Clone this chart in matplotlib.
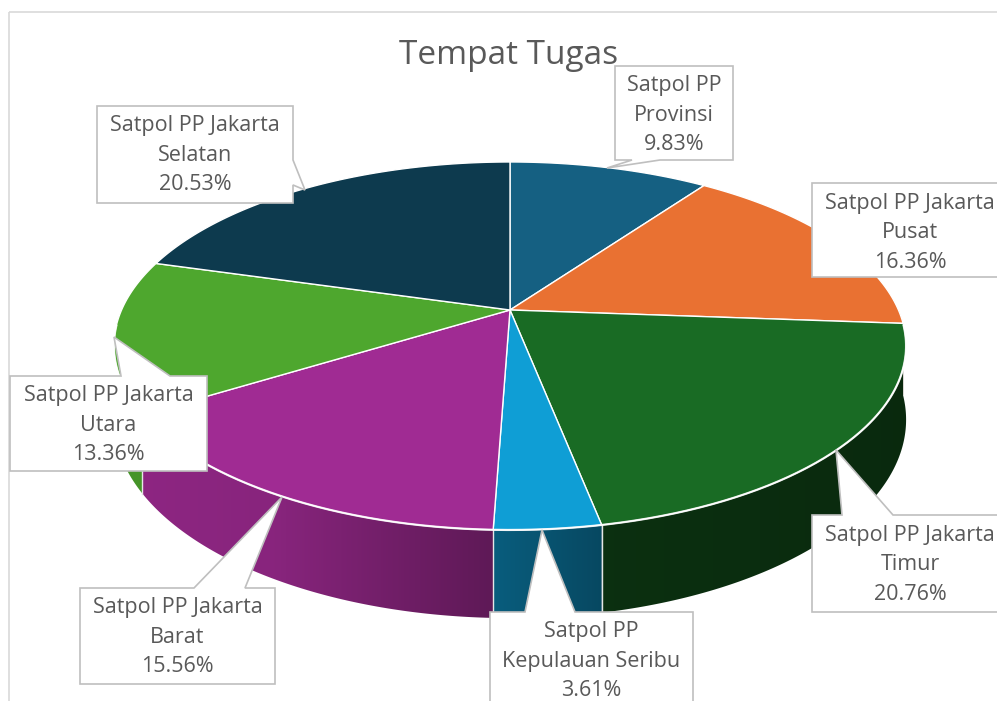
import numpy as np
import matplotlib.pyplot as plt
from matplotlib.patches import Polygon, Rectangle
from matplotlib.colors import to_rgb

# data
categories = ["Satpol PP\nProvinsi", "Satpol PP Jakarta\nPusat", "Satpol PP Jakarta\nTimur",
              "Satpol PP\nKepulauan Seribu", "Satpol PP Jakarta\nBarat",
              "Satpol PP Jakarta\nUtara", "Satpol PP Jakarta\nSelatan"]
shares = [9.83, 16.36, 20.76, 3.61, 15.56, 13.36, 20.53]
colors = ["#156082", "#E97132", "#196B24", "#0F9ED5", "#A02B93", "#4EA72E", "#0D3A4E"]
title = "Tempat Tugas"

# callout layout in pixels: box (x0, y0, x1, y1), pointer side, base, tip
callouts = [
    ((615, 66, 733, 160), "bottom", (632, 660), (607, 168)),
    ((812, 183, 1010, 277), None, None, None),
    ((812, 515, 1010, 612), "top", (842, 893), (836, 450)),
    ((490, 612, 693, 720), "top", (525, 575), (542, 530)),
    ((80, 588, 275, 684), "top", (194, 245), (282, 497)),
    ((10, 376, 207, 471), "top", (121, 170), (114, 337)),
    ((97, 106, 293, 203), "right", (160, 185), (305, 190)),
]

TXT = "#595959"
plt.rcParams['font.family'] = ['Open Sans', 'DejaVu Sans']

# perspective camera for the 3d pie (pixel units)
F, D, elev, thick = 1768.6, 4.553, np.radians(27.1), 0.205
cx, cy = 510.0, 310.0
ca, sa = np.cos(elev), np.sin(elev)


def project(phi_deg, bottom=False):
    phi = np.radians(phi_deg)
    X, Y = np.sin(phi), np.cos(phi)
    depth = D + Y * ca
    y = cy - F * Y * sa / depth
    if bottom:
        y = y + F * thick * ca / depth
    return cx + F * X / depth, y


def shade(phi_deg):
    X = np.sin(np.radians(phi_deg))
    return np.interp(X, [-1, -0.5, 0, 0.2, 1], [0.9, 0.85, 0.57, 0.45, 0.38])


def callout_poly(box, side, base, tip):
    x0, y0, x1, y1 = box
    if side == "top":
        return [(x0, y0), (base[0], y0), tip, (base[1], y0), (x1, y0), (x1, y1), (x0, y1)]
    if side == "bottom":
        return [(x0, y0), (x1, y0), (x1, y1), (base[1], y1), tip, (base[0], y1), (x0, y1)]
    if side == "right":
        return [(x0, y0), (x1, y0), (x1, base[0]), tip, (x1, base[1]), (x1, y1), (x0, y1)]
    return [(x0, y0), (x1, y0), (x1, y1), (x0, y1)]


fig = plt.figure(figsize=(9.97, 7.01), dpi=100)
ax = fig.add_axes([0, 0, 1, 1])
ax.axis('off')

# chart area border
ax.add_patch(Rectangle((9, 12), 1000, 700, fill=False, ec="#D9D9D9", lw=1.2, zorder=0))

edges = np.concatenate([[0], np.cumsum(shares)]) / sum(shares) * 360.0

# front side walls with a shaded gradient
for i, c in enumerate(colors):
    a0, a1 = max(edges[i], 90.0), min(edges[i + 1], 270.0)
    if a1 <= a0:
        continue
    a = np.linspace(a0, a1, 200)
    tx, ty = project(a)
    bx, by = project(a, True)
    verts = list(zip(tx, ty)) + list(zip(bx[::-1], by[::-1]))
    wall = Polygon(verts, closed=True, fc="none", ec="none")
    ax.add_patch(wall)
    xs = np.linspace(tx.min(), tx.max(), 300)
    f = np.interp(xs, tx[::-1], shade(a)[::-1])
    img = np.clip(np.array(to_rgb(c))[None, None, :] * f[None, :, None], 0, 1)
    im = ax.imshow(img, extent=(xs[0] - 1, xs[-1] + 1, by.max() + 1, ty.min() - 1),
                   aspect='auto', interpolation='bilinear', zorder=2)
    im.set_clip_path(wall)

# light seams on visible wall joints
for e in edges[1:-1]:
    if np.cos(np.radians(e)) < 0 and abs(np.sin(np.radians(e))) < 0.95:
        x0, y0 = project(e)
        x1, y1 = project(e, True)
        ax.plot([x0, x1], [y0, y1], color="#E6E6E6", lw=1.0, zorder=3)

# top faces
for i, c in enumerate(colors):
    a = np.linspace(edges[i], edges[i + 1], 200)
    px, py = project(a)
    verts = [(cx, cy)] + list(zip(px, py))
    ax.add_patch(Polygon(verts, closed=True, fc=c, ec="white", lw=1.0, zorder=4))

# front rim highlight
a = np.linspace(95, 265, 300)
px, py = project(a)
ax.plot(px, py, color="white", lw=1.6, alpha=0.85, zorder=5)

ax.text(509, 55, title, ha="center", va="center", fontsize=24, color=TXT, zorder=6)

# data labels
for name, v, (box, side, base, tip) in zip(categories, shares, callouts):
    ax.add_patch(Polygon(callout_poly(box, side, base, tip), closed=True, fc="white",
                         ec="#BFBFBF", lw=1.2, zorder=7))
    x0, y0, x1, y1 = box
    xm = 0.5 * (x0 + x1)
    if x1 > 997:
        xm = x0 + 98
    lines = name.split("\n") + [f"{v:.2f}%"]
    for k, s in enumerate(lines):
        ax.text(xm, y0 + 20 + 29.5 * k, s, ha="center", va="center", fontsize=15.5,
                color=TXT, zorder=8)

ax.set_xlim(0, 997)
ax.set_ylim(701, 0)
fig.savefig("out.png", dpi=100)
